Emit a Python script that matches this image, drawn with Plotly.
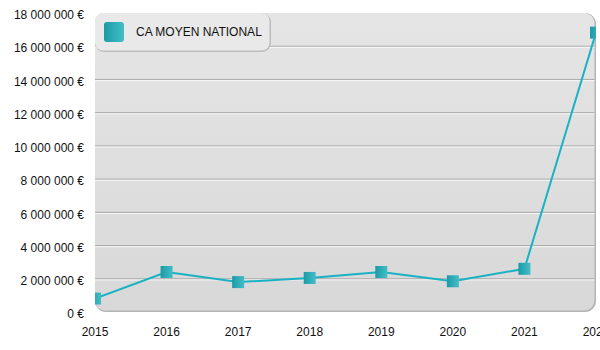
import base64
import plotly.graph_objects as go

# Average national turnover per year (euros)
years = [2015, 2016, 2017, 2018, 2019, 2020, 2021, 2022]
ca_moyen = [810000, 2410000, 1800000, 2050000, 2410000, 1850000, 2600000, 16820000]
series_name = "CA MOYEN NATIONAL"

y_ticks = [0, 2e6, 4e6, 6e6, 8e6, 10e6, 12e6, 14e6, 16e6, 18e6]
y_ticktext = ["{:,} €".format(int(v)).replace(",", " ") for v in y_ticks]
x_ticktext = [str(y) for y in years]

TEAL_LINE = "#19b2c4"
TEAL_DARK = "#1b9aa6"
TEAL_LIGHT = "#43bec8"
FONT = "Liberation Sans, Arial, sans-serif"

W, H = 600, 350
M_L, M_R, M_T, M_B = 95, 4, 13, 38
PW, PH = W - M_L - M_R, H - M_T - M_B


def svg_uri(svg):
    return "data:image/svg+xml;base64," + base64.b64encode(svg.encode("utf-8")).decode("ascii")


# Rounded plot panel with a vertical grey gradient and a soft bottom/right edge
panel_svg = f"""<svg xmlns="http://www.w3.org/2000/svg" width="{PW}" height="{PH}" viewBox="0 0 {PW} {PH}" preserveAspectRatio="none">
<defs><linearGradient id="g" x1="0" y1="0" x2="0" y2="1">
<stop offset="0" stop-color="#e5e5e5"/><stop offset="1" stop-color="#d8d8d8"/></linearGradient></defs>
<rect x="0" y="0" width="{PW}" height="{PH}" rx="11" ry="11" fill="#b4b4b4"/>
<rect x="0" y="0" width="{PW-1.5}" height="{PH-1.5}" rx="10" ry="10" fill="url(#g)"/>
</svg>"""

LEG_W, LEG_H = 176, 39
legend_svg = f"""<svg xmlns="http://www.w3.org/2000/svg" width="{LEG_W}" height="{LEG_H}" viewBox="0 0 {LEG_W} {LEG_H}" preserveAspectRatio="none">
<defs><linearGradient id="s" x1="0" y1="0" x2="1" y2="0">
<stop offset="0" stop-color="{TEAL_DARK}"/><stop offset="1" stop-color="{TEAL_LIGHT}"/></linearGradient></defs>
<rect x="0" y="0" width="{LEG_W}" height="{LEG_H}" rx="9" ry="9" fill="#bdbdbd"/>
<rect x="0" y="0" width="{LEG_W-1.5}" height="{LEG_H-1.5}" rx="8" ry="8" fill="#e9e9e9"/>
<rect x="9" y="9" width="20" height="20" rx="3" ry="3" fill="url(#s)"/>
</svg>"""

fig = go.Figure()
fig.add_trace(go.Scatter(
    x=years, y=ca_moyen, name=series_name, mode="lines+markers",
    line=dict(color=TEAL_LINE, width=2),
    marker=dict(symbol="square", size=12, color=TEAL_DARK,
                gradient=dict(type="horizontal", color=TEAL_LIGHT),
                line=dict(width=0)),
    showlegend=False, cliponaxis=True,
))

shapes = []
for v in y_ticks[1:-1]:
    shapes.append(dict(type="line", xref="paper", x0=0, x1=0.997, yref="y", y0=v, y1=v,
                       line=dict(color="#a9a9a9", width=1), layer="below"))
    shapes.append(dict(type="line", xref="paper", x0=0, x1=0.997, yref="y",
                       ysizemode="pixel", yanchor=v, y0=-1.2, y1=-1.2,
                       line=dict(color="#f7f7f7", width=1), layer="below"))

images = [
    dict(source=svg_uri(panel_svg), xref="paper", yref="paper", x=0, y=1,
         sizex=1, sizey=1, sizing="stretch", xanchor="left", yanchor="top", layer="below"),
    dict(source=svg_uri(legend_svg), xref="paper", yref="paper", x=0, y=1,
         sizex=LEG_W / PW, sizey=LEG_H / PH, sizing="stretch",
         xanchor="left", yanchor="top", layer="above"),
]

annotations = [dict(
    text=series_name, xref="paper", yref="paper",
    x=(134 - M_L) / PW, y=1 - (32.5 - M_T) / PH, xanchor="left", yanchor="middle",
    showarrow=False, font=dict(family=FONT, size=12, color="#111111"),
)]

fig.update_layout(
    width=W, height=H,
    margin=dict(l=M_L, r=M_R, t=M_T, b=M_B, pad=0, autoexpand=False),
    paper_bgcolor="white", plot_bgcolor="rgba(0,0,0,0)",
    font=dict(family=FONT, size=12, color="#111111"),
    shapes=shapes, images=images, annotations=annotations,
    xaxis=dict(range=[2015, 2022], tickvals=years, ticktext=x_ticktext,
               showgrid=False, zeroline=False, showline=False, ticks="",
               ticklabelstandoff=11, ticklabeloverflow="allow", automargin=False,
               tickfont=dict(size=12)),
    yaxis=dict(range=[0, 18e6], tickvals=y_ticks, ticktext=y_ticktext,
               showgrid=False, zeroline=False, showline=False, ticks="",
               ticklabelstandoff=10, ticklabelshift=2, automargin=False,
               tickfont=dict(size=12)),
)

fig.write_html("out.html")
